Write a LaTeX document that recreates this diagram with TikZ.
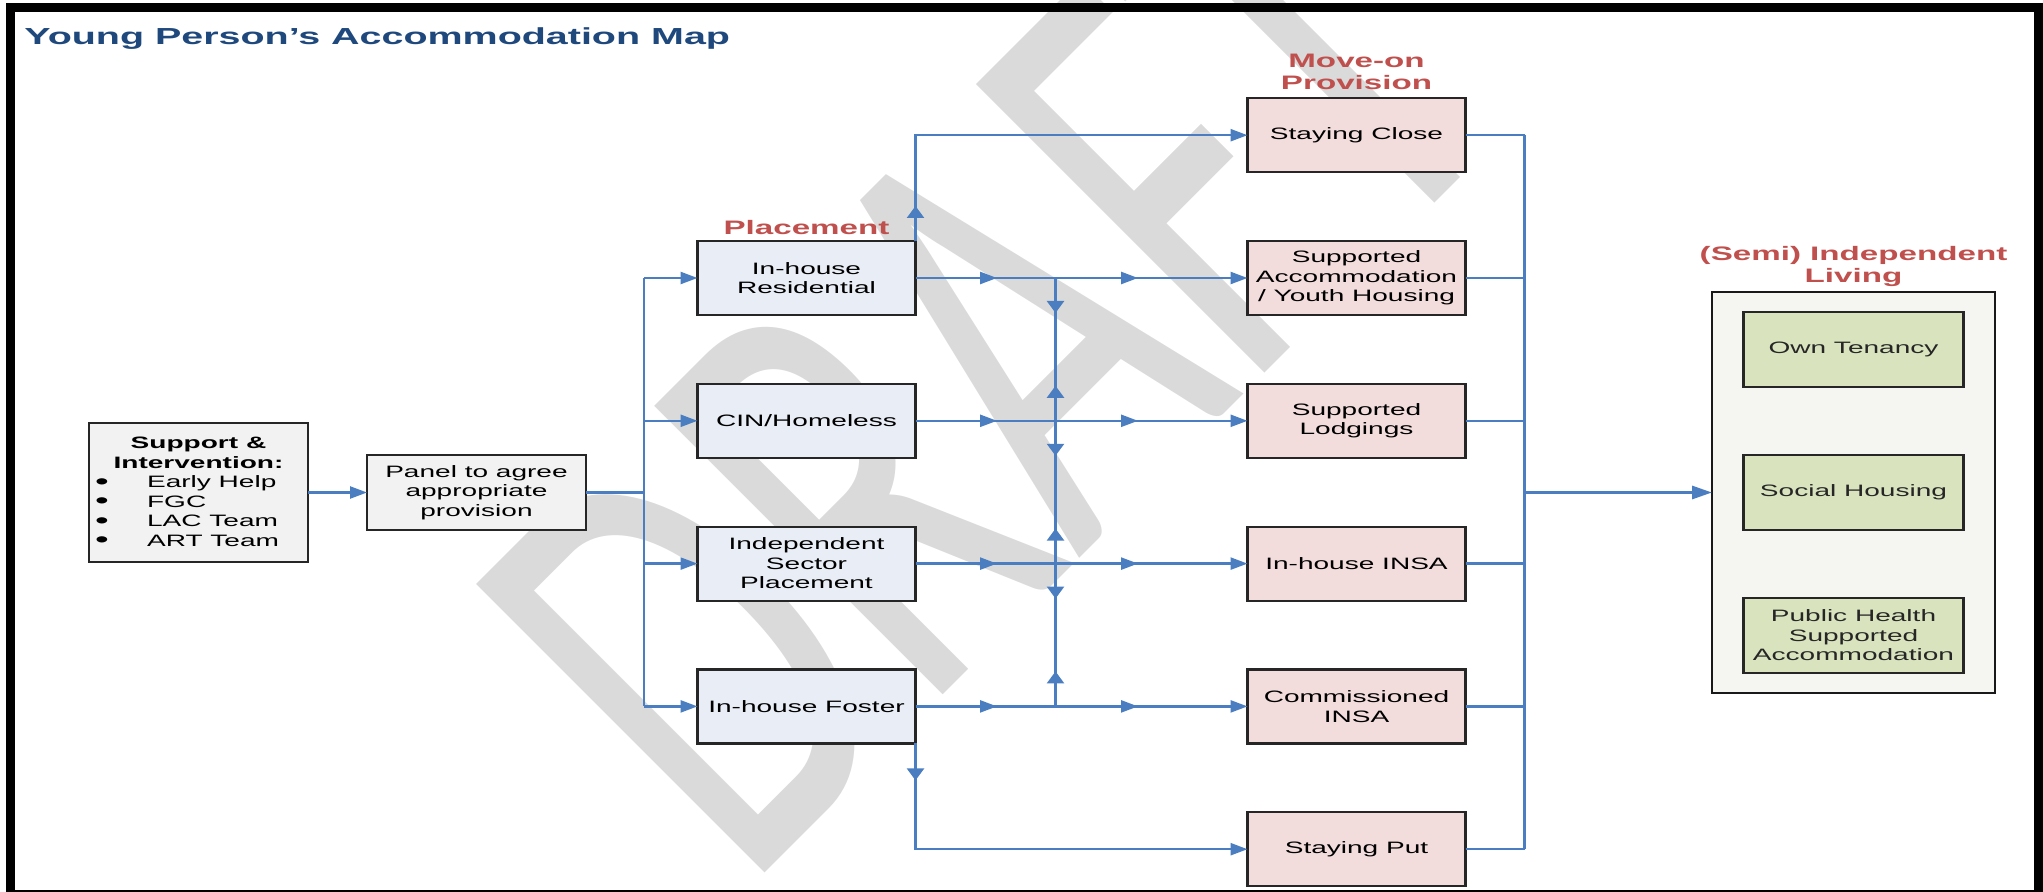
\documentclass[tikz,border=0pt]{standalone}
\usepackage{graphicx}
\usepackage{fontspec}
\setmainfont{Liberation Sans}[FakeStretch=1.7]
\newfontfamily\wmfont{Carlito}
\usetikzlibrary{positioning,arrows.meta,decorations.markings}

\definecolor{linkblue}{RGB}{74,126,193}
\definecolor{titleblue}{RGB}{31,73,125}
\definecolor{headred}{RGB}{192,80,77}
\definecolor{placefill}{RGB}{233,237,245}
\definecolor{movefill}{RGB}{242,221,220}
\definecolor{livefill}{RGB}{217,228,191}
\definecolor{outerfill}{RGB}{245,246,241}
\definecolor{panelfill}{RGB}{242,242,242}
\definecolor{wmgray}{RGB}{218,218,218}

\newcommand{\supitem}[1]{\makebox[104pt][l]{\hspace{0.3pt}\raisebox{-0.7pt}{\scalebox{1.4}{\textbullet}}\hspace{19.1pt}#1}}

\tikzset{
  htip/.tip={Triangle[length=8.5pt,width=6pt]},
  vtip/.tip={Triangle[length=6pt,width=8.5pt]},
  box/.style={draw=black!85, line width=1.1pt, outer sep=0pt, align=center,
    inner xsep=2pt, inner ysep=2pt, font=\fontsize{8.25pt}{9.75pt}\selectfont},
  placebox/.style={box, fill=placefill, minimum width=109pt, minimum height=37pt},
  movebox/.style={box, fill=movefill, minimum width=109pt, minimum height=37pt},
  livebox/.style={box, fill=livefill, text=black!85, minimum width=110pt, minimum height=37.5pt},
  panelbox/.style={box, fill=panelfill, minimum width=109.5pt},
  heading/.style={text=headred, align=center, inner sep=0pt,
    font=\fontsize{9.75pt}{11.3pt}\selectfont\bfseries},
  wire/.style={draw=linkblue, line width=1.2pt},
  link/.style={wire, -htip},
  firstmark/.style={postaction={decorate}, decoration={markings,
    mark=at position #1 with {\arrow{vtip}}}},
  rowmarks/.style={postaction={decorate}, decoration={markings,
    mark=at position 40.75pt with {\arrow{htip}},
    mark=at position 111.25pt with {\arrow{htip}}}},
  busmarks/.style={postaction={decorate}, decoration={markings,
    mark=at position 17.5pt with {\arrow{vtip}},
    mark=at position -17.5pt with {\arrowreversed{vtip}}}},
}

\begin{document}
\begin{tikzpicture}[x=0.5pt, y=-0.5pt]
\useasboundingbox (0,0) rectangle (2043,892);

\node[text=wmgray, inner sep=0pt, anchor=base west, rotate=45, xscale=0.64,
  font=\wmfont\fontsize{318pt}{318pt}\selectfont] (wm) at (745,893) {DRAFT};

\node[text=titleblue, inner sep=0pt, anchor=base west,
  font=\fontsize{11.6pt}{14pt}\selectfont\bfseries] (title) at (24,45)
  {Young Person’s Accommodation Map};

\node[panelbox, minimum height=69.5pt] (sup) at (198.5,492.5)
  {\textbf{Support \&}\\\textbf{Intervention:}\\\supitem{Early Help}\\\supitem{FGC}\\
   \supitem{LAC Team}\\\supitem{ART Team}};
\node[panelbox, minimum height=37.5pt, right=29.5pt of sup] (panel)
  {Panel to agree\\appropriate\\provision};

\node[placebox] (res) at (806.5,278) {In-house\\Residential};
\node[placebox, below=34.4pt of res] (cin) {CIN/Homeless};
\node[placebox, below=34.4pt of cin] (ind) {Independent\\Sector\\Placement};
\node[placebox, below=34.4pt of ind] (fos) {In-house Foster};

\node[movebox, right=166pt of res] (sacc) {Supported\\Accommodation\\/ Youth Housing};
\node[movebox, above=34.4pt of sacc] (close) {Staying Close};
\node[movebox, below=34.4pt of sacc] (lod) {Supported\\Lodgings};
\node[movebox, below=34.4pt of lod] (insa) {In-house INSA};
\node[movebox, below=34.4pt of insa] (comm) {Commissioned\\INSA};
\node[movebox, below=34.4pt of comm] (put) {Staying Put};

\node[draw=black!90, fill=outerfill, line width=1.1pt, outer sep=0pt, minimum width=141.5pt,
  minimum height=200.5pt] (liv) at (1853.5,492.5) {};
\node[livebox] (soc) at (liv) {Social Housing};
\node[livebox, above=34pt of soc] (own) {Own Tenancy};
\node[livebox, below=34pt of soc] (pub) {Public Health\\Supported\\Accommodation};

\node[heading, above=3pt of res] (plhead) {Placement};
\node[heading, above=4pt of close] (mohead) {Move-on\\Provision};
\node[heading, above=2.4pt of liv] (lihead) {(Semi) Independent\\Living};

\draw[link] (sup) -- (panel);
\coordinate[right=29pt of panel.east] (fork);
\draw[wire] (panel) -- (fork);
\draw[wire] (fork|-res.west) -- (fork|-fos.west);
\foreach \p in {res,cin,ind,fos}
  \draw[link] (fork|-\p.west) -- (\p);

\foreach \a/\b in {res/sacc,cin/lod,ind/insa,fos/comm}
  \draw[link, rowmarks] (\a) -- (\b);
\coordinate[right=70pt of res.east] (cross);
\foreach \a/\b in {res/cin,cin/ind,ind/fos}
  \draw[wire, busmarks] (cross|-\a.east) -- (cross|-\b.east);
\draw[link, firstmark=17.5pt] (res.north east) |- (close.west);
\draw[link, firstmark=18.5pt] (fos.south east) |- (put.west);

\coordinate[right=29.5pt of close.east] (join);
\foreach \p in {close,sacc,lod,insa,comm,put}
  \draw[wire] (\p) -- (join|-\p.east);
\draw[wire] (join|-close.east) -- (join|-put.east);
\draw[wire, line width=1.5pt, -{Triangle[length=10pt,width=6.5pt]}] (join|-liv.west) -- (liv);

\draw[line width=4.5pt] (10,7.5) rectangle (2038,894);
\end{tikzpicture}
\end{document}
